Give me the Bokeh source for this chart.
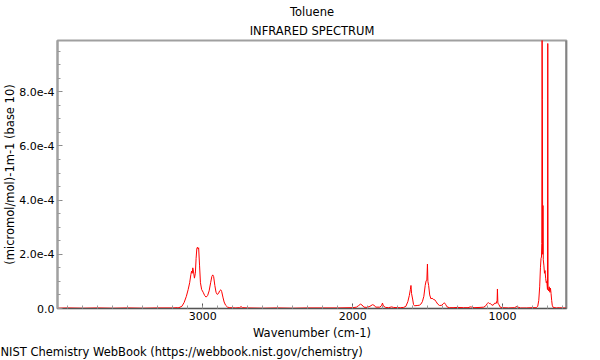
from bokeh.plotting import figure
from bokeh.models import Range1d, FixedTicker, Span, Title
from bokeh.embed import file_html
from bokeh.resources import INLINE

# ---- texts ----
title_main = "Toluene"
title_sub = "INFRARED SPECTRUM"
x_label = "Wavenumber (cm-1)"
y_label = "(micromol/mol)-1m-1 (base 10)"
footer = "NIST Chemistry WebBook (https://webbook.nist.gov/chemistry)"

# ---- spectrum ----
wavenumber = [
    3970, 3900, 3800, 3700, 3600, 3500, 3400, 3300, 3200, 3170,
    3160, 3140, 3125, 3110, 3098, 3088, 3080, 3075, 3071, 3067, 3062, 3056,
    3050, 3045, 3040, 3036, 3032, 3028, 3022, 3016, 3008, 2998, 2988, 2978,
    2968, 2958, 2948, 2940, 2934, 2928, 2920, 2912, 2904, 2896, 2888, 2880,
    2874, 2866, 2858, 2848, 2835, 2820, 2780, 2755, 2745, 2735, 2700, 2600,
    2500, 2400, 2300, 2200, 2100, 2000, 1975, 1960, 1948, 1938, 1925, 1905,
    1885, 1868, 1858, 1845, 1820, 1808, 1801, 1795, 1780, 1760, 1740, 1728,
    1700, 1680, 1660, 1645, 1632, 1622, 1615, 1611, 1607, 1600, 1594, 1588,
    1570, 1555, 1545, 1535, 1525, 1516, 1510, 1505, 1501, 1498, 1493, 1486,
    1478, 1470, 1462, 1452, 1443, 1432, 1420, 1405, 1395, 1388, 1380, 1370,
    1355, 1330, 1300, 1260, 1230, 1215, 1205, 1190, 1150, 1125, 1112, 1102,
    1095, 1088, 1082, 1072, 1063, 1052, 1042, 1036, 1034, 1031, 1025, 1015,
    1000, 960, 920, 902, 896, 880, 840, 800, 775, 765, 758, 752, 747, 743,
    740, 738, 736, 734, 732, 730, 728, 724, 720, 716, 712, 708, 704, 700,
    698, 696, 692, 688, 684, 680, 676, 672, 668, 662, 640, 620, 600, 573,
]
absorbance = [
    1e-6, 2e-6, 1e-6, 2e-6, 1e-6, 2e-6, 1e-6, 2e-6, 2e-6, 3e-6,
    3e-6, 8e-6, 2.2e-5, 4.5e-5, 7.0e-5, 9.5e-5, 1.25e-4, 1.38e-4, 1.30e-4, 1.50e-4, 1.35e-4, 1.12e-4,
    1.30e-4, 1.85e-4, 2.22e-4, 2.26e-4, 2.20e-4, 2.24e-4, 1.60e-4, 9.5e-5, 7.0e-5, 6.0e-5, 4.8e-5, 4.2e-5,
    4.8e-5, 6.5e-5, 9.5e-5, 1.18e-4, 1.24e-4, 1.18e-4, 8.5e-5, 6.0e-5, 5.2e-5, 5.5e-5, 6.5e-5, 6.9e-5,
    6.2e-5, 4.2e-5, 2.4e-5, 1.2e-5, 5e-6, 3e-6, 2e-6, 3e-6, 7e-6, 3e-6, 2e-6, 1e-6,
    2e-6, 1e-6, 2e-6, 2e-6, 2e-6, 3e-6, 5e-6, 1.1e-5, 1.6e-5, 1.3e-5, 5e-6, 4e-6,
    8e-6, 1.4e-5, 1.2e-5, 5e-6, 5e-6, 1.0e-5, 2.0e-5, 9e-6, 4e-6, 3e-6, 6e-6, 4e-6,
    3e-6, 3e-6, 4e-6, 8e-6, 2.5e-5, 4.8e-5, 7.0e-5, 8.5e-5, 5.5e-5, 3.5e-5, 1.5e-5, 1.0e-5,
    1.1e-5, 1.2e-5, 1.6e-5, 2.5e-5, 4.5e-5, 8.5e-5, 1.02e-4, 1.05e-4, 1.64e-4, 1.0e-4, 8.5e-5, 5.0e-5,
    3.6e-5, 3.8e-5, 3.4e-5, 3.2e-5, 2.5e-5, 1.6e-5, 1.1e-5, 1.2e-5, 1.8e-5, 2.1e-5, 1.5e-5, 6e-6,
    3e-6, 3e-6, 4e-6, 3e-6, 3e-6, 6e-6, 5e-6, 3e-6, 4e-6, 5e-6, 1.0e-5, 1.8e-5,
    2.2e-5, 1.8e-5, 1.9e-5, 1.3e-5, 1.2e-5, 2.0e-5, 1.9e-5, 3.0e-5, 7.2e-5, 2.0e-5, 1.5e-5, 5e-6,
    3e-6, 2e-6, 3e-6, 8e-6, 5e-6, 2e-6, 2e-6, 3e-6, 3e-6, 8e-6, 3.0e-5, 8.0e-5, 1.5e-4, 1.85e-4,
    1.9e-4, 2.4e-4, 1.06e-3, 7.7e-4, 2.0e-4, 3.8e-4, 1.8e-4, 1.6e-4, 1.3e-4, 1.4e-4, 1.1e-4, 9.5e-5, 1.0e-4, 7.0e-5,
    9.78e-4, 7.5e-5, 6.5e-5, 8.0e-5, 6.0e-5, 7.5e-5, 5.5e-5, 3.0e-5, 1.2e-5, 4e-6, 2e-6, 3e-6, 2e-6, 2e-6,
]

# ---- axes ----
x_start, x_end = 3970, 573
y_start, y_end = 0.0, 9.89e-4
x_ticks = [3000, 2000, 1000]
x_tick_labels = ["3000", "2000", "1000"]
x_minor_ticks = list(range(600, 4000, 100))
y_ticks = [0.0, 2e-4, 4e-4, 6e-4, 8e-4]
y_tick_labels = ["0.0", "2.0e-4", "4.0e-4", "6.0e-4", "8.0e-4"]
y_minor_ticks = [i * 0.5e-4 for i in range(20)]

FONT = "DejaVu Sans"
FS = "11.5px"
FS_TICK = "11px"
W, H = 600, 360
ML, MR, MT, MB = 57, 34, 40, 52

p = figure(width=W, height=H, output_backend="svg", toolbar_location=None,
           x_range=Range1d(x_start, x_end), y_range=Range1d(y_start, y_end),
           min_border_left=ML, min_border_right=MR, min_border_top=MT,
           min_border_bottom=MB, title_location=None)
p.xgrid.visible = False
p.ygrid.visible = False
p.background_fill_color = "white"
p.border_fill_color = "white"
p.outline_line_color = "#a0a0a0"
p.outline_line_width = 2

xa = p.xaxis[0]
xa.ticker = FixedTicker(ticks=x_ticks, minor_ticks=x_minor_ticks)
xa.major_label_overrides = {t: s for t, s in zip(x_ticks, x_tick_labels)}
xa.axis_label = x_label
ya = p.yaxis[0]
ya.ticker = FixedTicker(ticks=y_ticks, minor_ticks=y_minor_ticks)
ya.major_label_overrides = {t: s for t, s in zip(y_ticks, y_tick_labels)}
ya.axis_label = y_label

for ax in (xa, ya):
    ax.major_tick_in = 5
    ax.major_tick_out = 0
    ax.minor_tick_in = 3
    ax.minor_tick_out = 0
    ax.major_label_standoff = 3
    ax.major_label_text_font = FONT
    ax.major_label_text_font_size = FS_TICK
    ax.major_label_text_color = "black"
    ax.axis_label_text_font = FONT
    ax.axis_label_text_font_size = FS
    ax.axis_label_text_font_style = "normal"
    ax.axis_label_text_color = "black"
xa.axis_label_standoff = 3
ya.axis_label_standoff = -1
xa.axis_line_color = "#555555"
xa.major_tick_line_color = "#555555"
xa.minor_tick_line_color = "#999999"
ya.axis_line_color = "#a0a0a0"
ya.axis_line_width = 2
ya.major_tick_line_color = "#888888"
ya.minor_tick_line_color = "#999999"

p.add_layout(Span(location=x_end, dimension="height", line_color="#666666", line_width=2))

p.line(wavenumber, absorbance, line_color="#ff0000", line_width=1)

# titles above (first added sits nearest to the frame)
p.add_layout(Title(text=title_sub, align="center", text_font=FONT, text_font_size=FS,
                   text_font_style="normal", text_color="black", standoff=5), "above")
p.add_layout(Title(text=title_main, align="center", text_font=FONT, text_font_size=FS,
                   text_font_style="normal", text_color="black", standoff=1), "above")
# footer below the x axis
p.add_layout(Title(text=footer, align="left", offset=-ML, text_font=FONT, text_font_size=FS,
                   text_font_style="normal", text_color="black", standoff=0), "below")

open("out.html", "w").write(file_html(p, INLINE))
